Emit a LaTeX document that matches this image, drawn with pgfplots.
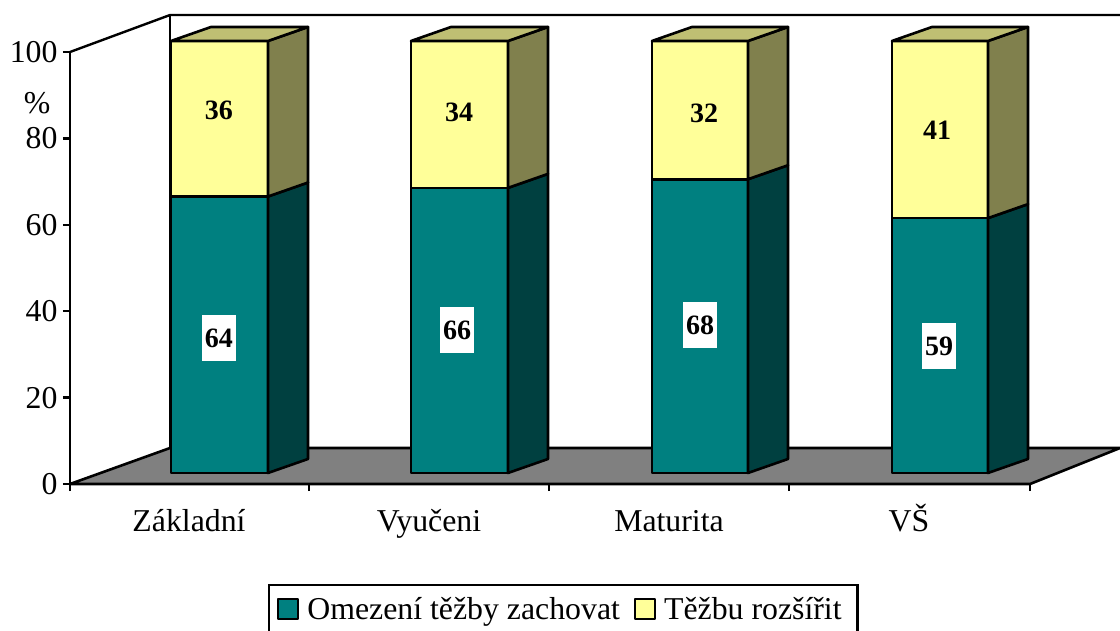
\documentclass[border=0pt]{standalone}
\usepackage{fontspec}
\setmainfont{Liberation Serif}
\usepackage{pgfplots}
\pgfplotsset{compat=1.18}

\definecolor{tealfront}{HTML}{008080}
\definecolor{tealside}{HTML}{004040}
\definecolor{yellowfront}{HTML}{FFFF99}
\definecolor{yellowside}{HTML}{80804D}
\definecolor{yellowtop}{HTML}{BFBF73}
\definecolor{floorgray}{HTML}{808080}

\newcommand{\chartfont}{\fontsize{31.8}{36}\selectfont}

\begin{document}
\begin{tikzpicture}
% page is 1120x630, axis origin sits at pixel (70,484)
\path[use as bounding box] (-70pt,-146pt) rectangle (1050pt,484pt);
\begin{axis}[
    scale only axis,
    width=960pt, height=432pt,
    xmin=70, xmax=1030,
    ymin=0, ymax=100,
    clip=false,
    axis lines*=left,
    axis line style={line width=2.4pt, black},
    tick align=outside,
    tick style={line width=2.4pt, black},
    major tick length=7pt,
    minor tick length=7pt,
    ytick={0,20,40,60,80,100},
    xtick={189,429,669,909},
    xticklabels={Základní,Vyučeni,Maturita,VŠ},
    major x tick style={draw=none},
    minor xtick={70,309,549,789,1030},
    tick label style={font=\chartfont},
    /pgf/number format/assume math mode=true,
    yticklabel style={xshift=-2pt},
    xticklabel style={anchor=base, yshift=-40pt},
    legend columns=2,
    legend cell align=left,
    legend style={
        at={(axis cs:268,-23.1)}, anchor=north west,
        draw=black, line width=2.4pt, font=\chartfont,
        inner xsep=8pt, inner ysep=10pt,
        /tikz/every odd column/.append style={column sep=6pt},
        /tikz/every even column/.append style={column sep=12pt},
    },
    legend image code/.code={
        \draw[line width=2.2pt,#1] (0pt,-10pt) rectangle (20pt,10pt);
    },
    face/.style={draw=black, line width=2.6pt, line join=round},
]

% back wall and floor
\addplot[draw=black, line width=2.4pt, line join=round, forget plot] coordinates {(70,100) (170,108.56) (1120,108.56)};
\addplot[draw=black, line width=2.4pt, forget plot] coordinates {(170,108.56) (170,8.33)};
\addplot[face, fill=floorgray, forget plot] coordinates {(70,0) (170,8.33) (1120,8.33) (1030,0)} -- cycle;

% Základní 64 / 36
\addplot[face, fill=tealfront] coordinates {(171,2.55) (268,2.55) (268,66.55) (171,66.55)} -- cycle;
\addlegendentry{Omezení těžby zachovat}
\addplot[face, fill=yellowfront] coordinates {(171,66.55) (268,66.55) (268,102.55) (171,102.55)} -- cycle;
\addlegendentry{Těžbu rozšířit\rule{6pt}{0pt}}
\addplot[face, fill=tealside, forget plot] coordinates {(268,2.55) (308,5.79) (308,69.79) (268,66.55)} -- cycle;
\addplot[face, fill=yellowside, forget plot] coordinates {(268,66.55) (308,69.79) (308,105.79) (268,102.55)} -- cycle;
\addplot[face, fill=yellowtop, forget plot] coordinates {(171,102.55) (211,105.79) (308,105.79) (268,102.55)} -- cycle;

% Vyučeni 66 / 34
\addplot[face, fill=tealfront, forget plot] coordinates {(411,2.55) (508,2.55) (508,68.55) (411,68.55)} -- cycle;
\addplot[face, fill=yellowfront, forget plot] coordinates {(411,68.55) (508,68.55) (508,102.55) (411,102.55)} -- cycle;
\addplot[face, fill=tealside, forget plot] coordinates {(508,2.55) (548,5.79) (548,71.79) (508,68.55)} -- cycle;
\addplot[face, fill=yellowside, forget plot] coordinates {(508,68.55) (548,71.79) (548,105.79) (508,102.55)} -- cycle;
\addplot[face, fill=yellowtop, forget plot] coordinates {(411,102.55) (451,105.79) (548,105.79) (508,102.55)} -- cycle;

% Maturita 68 / 32
\addplot[face, fill=tealfront, forget plot] coordinates {(652,2.55) (748,2.55) (748,70.55) (652,70.55)} -- cycle;
\addplot[face, fill=yellowfront, forget plot] coordinates {(652,70.55) (748,70.55) (748,102.55) (652,102.55)} -- cycle;
\addplot[face, fill=tealside, forget plot] coordinates {(748,2.55) (788,5.79) (788,73.79) (748,70.55)} -- cycle;
\addplot[face, fill=yellowside, forget plot] coordinates {(748,70.55) (788,73.79) (788,105.79) (748,102.55)} -- cycle;
\addplot[face, fill=yellowtop, forget plot] coordinates {(652,102.55) (692,105.79) (788,105.79) (748,102.55)} -- cycle;

% VŠ 59 / 41
\addplot[face, fill=tealfront, forget plot] coordinates {(892,2.55) (988,2.55) (988,61.55) (892,61.55)} -- cycle;
\addplot[face, fill=yellowfront, forget plot] coordinates {(892,61.55) (988,61.55) (988,102.55) (892,102.55)} -- cycle;
\addplot[face, fill=tealside, forget plot] coordinates {(988,2.55) (1028,5.79) (1028,64.79) (988,61.55)} -- cycle;
\addplot[face, fill=yellowside, forget plot] coordinates {(988,61.55) (1028,64.79) (1028,105.79) (988,102.55)} -- cycle;
\addplot[face, fill=yellowtop, forget plot] coordinates {(892,102.55) (932,105.79) (1028,105.79) (988,102.55)} -- cycle;

% value labels
\addplot[only marks, mark=none, forget plot, point meta=explicit symbolic,
    nodes near coords,
    every node near coord/.append style={anchor=center, fill=white, inner sep=0pt,
        minimum width=34pt, minimum height=46pt,
        font=\fontsize{28}{32}\selectfont\bfseries}]
    coordinates {(219,33.8)[64] (457,35.65)[66] (700,36.81)[68] (939,31.94)[59]};
\addplot[only marks, mark=none, forget plot, point meta=explicit symbolic,
    nodes near coords,
    every node near coord/.append style={anchor=center, inner sep=0pt,
        font=\fontsize{28}{32}\selectfont\bfseries}]
    coordinates {(219,86.57)[36] (459,86.11)[34] (704,85.88)[32] (937,81.94)[41]};

\node[font=\chartfont] at (axis cs:37,88.2) {\%};
\end{axis}
\end{tikzpicture}
\end{document}
